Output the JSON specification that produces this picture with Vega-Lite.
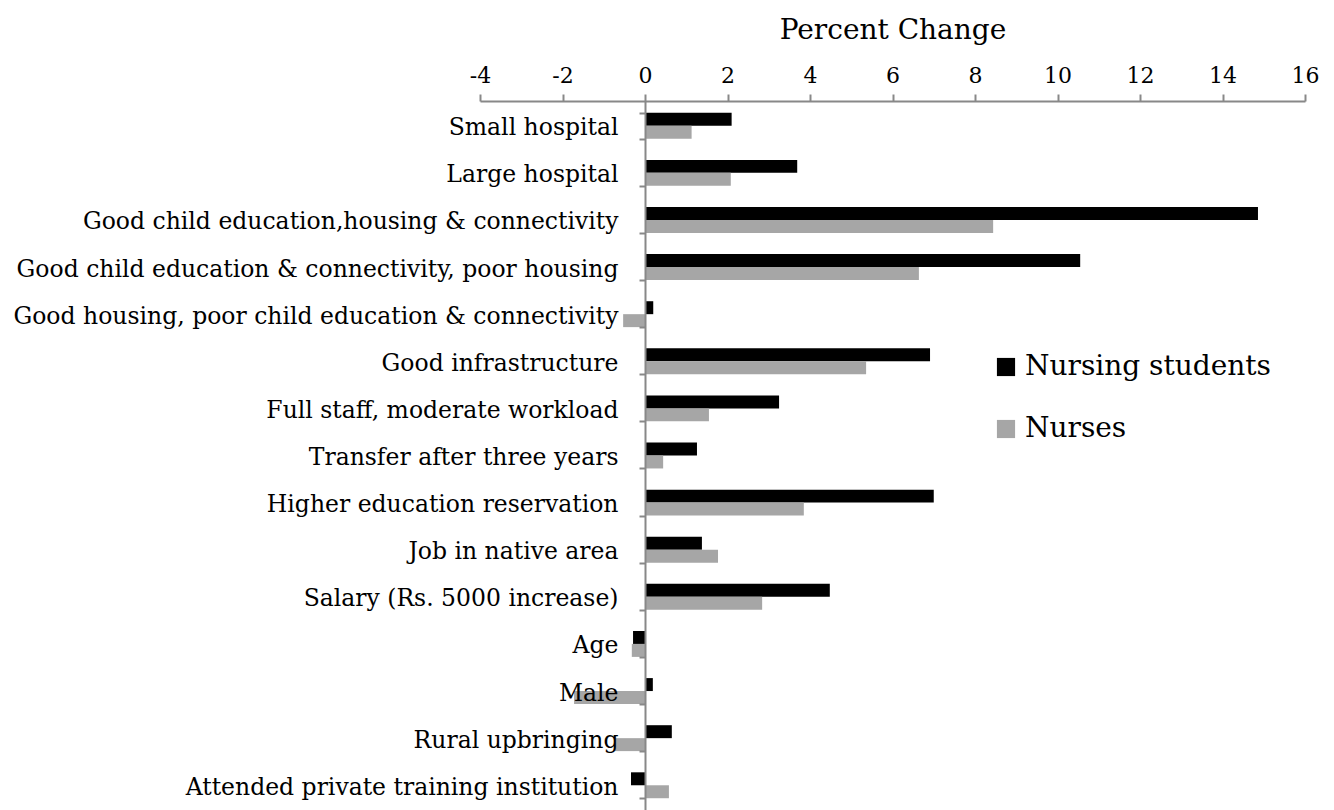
{
  "$schema": "https://vega.github.io/schema/vega-lite/v6.json",
  "width": 825,
  "height": 709,
  "autosize": {"type": "none"},
  "padding": {"left": 480, "top": 101, "right": 29, "bottom": 0},
  "background": "white",
  "config": {"view": {"stroke": null}, "font": "DejaVu Serif"},
  "data": {
    "values": [
      {"factor": "Small hospital", "group": "Nursing students", "value": 2.1},
      {"factor": "Small hospital", "group": "Nurses", "value": 1.13},
      {"factor": "Large hospital", "group": "Nursing students", "value": 3.69},
      {"factor": "Large hospital", "group": "Nurses", "value": 2.08},
      {"factor": "Good child education,housing & connectivity", "group": "Nursing students", "value": 14.86},
      {"factor": "Good child education,housing & connectivity", "group": "Nurses", "value": 8.44},
      {"factor": "Good child education & connectivity, poor housing", "group": "Nursing students", "value": 10.55},
      {"factor": "Good child education & connectivity, poor housing", "group": "Nurses", "value": 6.64},
      {"factor": "Good housing, poor child education & connectivity", "group": "Nursing students", "value": 0.2},
      {"factor": "Good housing, poor child education & connectivity", "group": "Nurses", "value": -0.53},
      {"factor": "Good infrastructure", "group": "Nursing students", "value": 6.91},
      {"factor": "Good infrastructure", "group": "Nurses", "value": 5.36},
      {"factor": "Full staff, moderate workload", "group": "Nursing students", "value": 3.25},
      {"factor": "Full staff, moderate workload", "group": "Nurses", "value": 1.55},
      {"factor": "Transfer after three years", "group": "Nursing students", "value": 1.26},
      {"factor": "Transfer after three years", "group": "Nurses", "value": 0.44},
      {"factor": "Higher education reservation", "group": "Nursing students", "value": 7.0},
      {"factor": "Higher education reservation", "group": "Nurses", "value": 3.85},
      {"factor": "Job in native area", "group": "Nursing students", "value": 1.38},
      {"factor": "Job in native area", "group": "Nurses", "value": 1.77},
      {"factor": "Salary (Rs. 5000 increase)", "group": "Nursing students", "value": 4.48},
      {"factor": "Salary (Rs. 5000 increase)", "group": "Nurses", "value": 2.84},
      {"factor": "Age", "group": "Nursing students", "value": -0.29},
      {"factor": "Age", "group": "Nurses", "value": -0.32},
      {"factor": "Male", "group": "Nursing students", "value": 0.19},
      {"factor": "Male", "group": "Nurses", "value": -1.72},
      {"factor": "Rural upbringing", "group": "Nursing students", "value": 0.65},
      {"factor": "Rural upbringing", "group": "Nurses", "value": -0.73},
      {"factor": "Attended private training institution", "group": "Nursing students", "value": -0.34},
      {"factor": "Attended private training institution", "group": "Nurses", "value": 0.58}
    ]
  },
  "mark": {"type": "bar"},
  "encoding": {
    "y": {
      "field": "factor",
      "type": "nominal",
      "sort": null,
      "scale": {"paddingInner": 0.45, "paddingOuter": 0.25},
      "axis": {
        "orient": "left",
        "offset": -165,
        "zindex": 1,
        "title": null,
        "domainColor": "#888888",
        "domainWidth": 2,
        "ticks": true,
        "tickBand": "extent",
        "tickSize": 6,
        "tickColor": "#888888",
        "tickWidth": 2,
        "labelPadding": 21,
        "labelOffset": 2,
        "labelFontSize": 23.5,
        "labelColor": "#000000",
        "labelFont": "DejaVu Serif",
        "labelLimit": 1000
      }
    },
    "yOffset": {
      "field": "group",
      "type": "nominal",
      "sort": ["Nursing students", "Nurses"],
      "scale": {"paddingInner": 0, "paddingOuter": 0}
    },
    "x": {
      "field": "value",
      "type": "quantitative",
      "scale": {"domain": [-4, 16], "nice": false, "zero": false},
      "axis": {
        "orient": "top",
        "values": [-4, -2, 0, 2, 4, 6, 8, 10, 12, 14, 16],
        "labelExpr": "'' + datum.value",
        "labelFlush": false,
        "grid": false,
        "title": "Percent Change",
        "titleFontSize": 28,
        "titleFontWeight": "normal",
        "titleFont": "DejaVu Serif",
        "titleColor": "#000000",
        "titlePadding": 20,
        "labelFontSize": 22,
        "labelFont": "DejaVu Serif",
        "labelColor": "#000000",
        "labelPadding": 7,
        "tickSize": 7,
        "tickColor": "#888888",
        "tickWidth": 2,
        "domainColor": "#888888",
        "domainWidth": 2
      }
    },
    "color": {
      "field": "group",
      "type": "nominal",
      "sort": ["Nursing students", "Nurses"],
      "scale": {"domain": ["Nursing students", "Nurses"], "range": ["#000000", "#a6a6a6"]},
      "legend": {
        "orient": "none",
        "legendX": 512,
        "legendY": 252,
        "title": null,
        "symbolType": "square",
        "symbolSize": 330,
        "symbolStrokeWidth": 0,
        "symbolOpacity": 1,
        "labelFontSize": 28,
        "labelFont": "DejaVu Serif",
        "labelColor": "#000000",
        "labelOffset": 5,
        "labelLimit": 500,
        "rowPadding": 34
      }
    }
  }
}
